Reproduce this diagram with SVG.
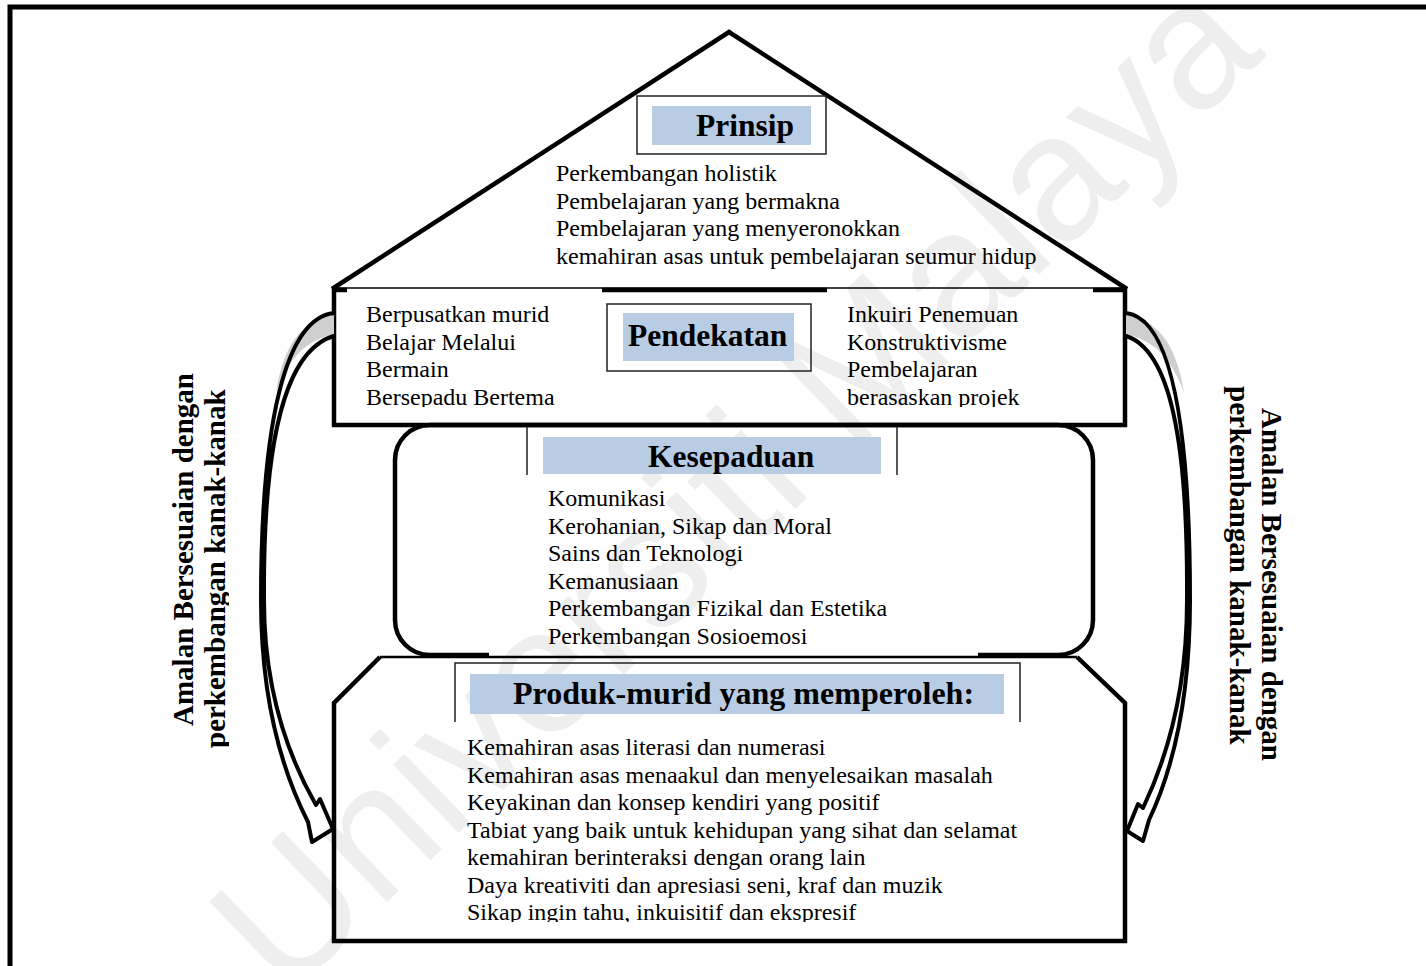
<svg xmlns="http://www.w3.org/2000/svg" width="1426" height="966" viewBox="0 0 1426 966">
  <style>
    .body { font-family: "Liberation Serif", "Times New Roman", serif; font-size: 24px; fill: #000; }
    .head { font-family: "Liberation Serif", "Times New Roman", serif; font-size: 31.5px; font-weight: bold; fill: #000; }
    .side { font-family: "Liberation Serif", "Times New Roman", serif; font-size: 29px; font-weight: bold; fill: #000; }
    .mark { font-family: "Liberation Sans", Arial, sans-serif; font-size: 179px; fill: #eeeeee; }
    .thick { fill: none; stroke: #000; stroke-width: 4.5; stroke-linejoin: miter; }
    .thin { fill: none; stroke: #222; stroke-width: 1.5; }
    .band { fill: none; stroke: #000; stroke-width: 4; stroke-linejoin: round; }
    .shade { fill: #cfcfcf; stroke: none; }
    .label { fill: #b8cce4; }
  </style>
  <defs>
    <clipPath id="clipPend"><rect x="340" y="292" width="780" height="115"/></clipPath>
    <clipPath id="clipKes"><rect x="400" y="476" width="690" height="171"/></clipPath>
    <clipPath id="clipProd"><rect x="340" y="720" width="780" height="202"/></clipPath>
    <clipPath id="clipLeftLabel"><rect x="150" y="350" width="79" height="420"/></clipPath>
  </defs>

  <!-- background watermark -->
  <text class="mark" transform="translate(285,1000) rotate(-43.9)">Universiti Malaya</text>

  <!-- page frame -->
  <path d="M10,966 L10,7 L1426,7" fill="none" stroke="#000" stroke-width="5"/>

  <!-- roof: Prinsip -->
  <g id="prinsip">
    <path class="thick" d="M332,289 L729,32 L1127,289"/>
    <line x1="332" y1="288" x2="1127" y2="288" stroke="#000" stroke-width="1.5"/>
    <rect class="thin" x="637" y="96" width="189" height="58"/>
    <rect class="label" x="652" y="106" width="159" height="39"/>
    <text class="head" x="696" y="136">Prinsip</text>
    <text class="body" x="556" y="181">Perkembangan holistik</text>
    <text class="body" x="556" y="208.5">Pembelajaran yang bermakna</text>
    <text class="body" x="556" y="236">Pembelajaran yang menyeronokkan</text>
    <text class="body" x="556" y="263.5">kemahiran asas untuk pembelajaran seumur hidup</text>
  </g>

  <!-- Pendekatan -->
  <g id="pendekatan">
    <path class="thick" d="M334,287 L334,425 L1125,425 L1125,287"/>
    <path class="thick" d="M332,290 L347,290 M602,290 L827,290 M1093,290 L1127,290"/>
    <rect class="thin" x="607" y="304" width="204" height="67"/>
    <rect class="label" x="623" y="313" width="171" height="48"/>
    <text class="head" x="628" y="346">Pendekatan</text>
    <g clip-path="url(#clipPend)">
      <text class="body" x="366" y="322">Berpusatkan murid</text>
      <text class="body" x="366" y="349.5">Belajar Melalui</text>
      <text class="body" x="366" y="377">Bermain</text>
      <text class="body" x="366" y="404.5">Bersepadu Bertema</text>
      <text class="body" x="847" y="322">Inkuiri Penemuan</text>
      <text class="body" x="847" y="349.5">Konstruktivisme</text>
      <text class="body" x="847" y="377">Pembelajaran</text>
      <text class="body" x="847" y="404.5">berasaskan projek</text>
    </g>
  </g>

  <!-- Kesepaduan -->
  <g id="kesepaduan">
    <path class="thick" d="M489,655 L430,655 A35,35 0 0 1 395,620 L395,460 A35,35 0 0 1 430,425 L1058,425 A35,35 0 0 1 1093,460 L1093,620 A35,35 0 0 1 1058,655 L978,655"/>
    <path class="thin" d="M527,427 L527,475 M897,427 L897,475"/>
    <rect class="label" x="543" y="437" width="338" height="37"/>
    <text class="head" x="648" y="467">Kesepaduan</text>
    <g clip-path="url(#clipKes)">
      <text class="body" x="548" y="506">Komunikasi</text>
      <text class="body" x="548" y="533.5">Kerohanian, Sikap dan Moral</text>
      <text class="body" x="548" y="561">Sains dan Teknologi</text>
      <text class="body" x="548" y="588.5">Kemanusiaan</text>
      <text class="body" x="548" y="616">Perkembangan Fizikal dan Estetika</text>
      <text class="body" x="548" y="643.5">Perkembangan Sosioemosi</text>
    </g>
  </g>

  <!-- Produk -->
  <g id="produk">
    <path class="thick" d="M380,657 L334,703 L334,941 L1125,941 L1125,703 L1077,657"/>
    <line x1="380" y1="657" x2="1077" y2="657" stroke="#000" stroke-width="2.5"/>
    <path class="thin" d="M455,722 L455,663 L1020,663 L1020,722"/>
    <rect class="label" x="470" y="674" width="534" height="40"/>
    <text class="head" x="513" y="704" style="font-size:32px">Produk-murid yang memperoleh:</text>
    <g clip-path="url(#clipProd)">
      <text class="body" x="467" y="755">Kemahiran asas literasi dan numerasi</text>
      <text class="body" x="467" y="782.5">Kemahiran asas menaakul dan menyelesaikan masalah</text>
      <text class="body" x="467" y="810">Keyakinan dan konsep kendiri yang positif</text>
      <text class="body" x="467" y="837.5">Tabiat yang baik untuk kehidupan yang sihat dan selamat</text>
      <text class="body" x="467" y="865">kemahiran berinteraksi dengan orang lain</text>
      <text class="body" x="467" y="892.5">Daya kreativiti dan apresiasi seni, kraf dan muzik</text>
      <text class="body" x="467" y="920">Sikap ingin tahu, inkuisitif dan ekspresif</text>
    </g>
  </g>

  <!-- curved side arrows -->
  <g id="connectors">
    <path class="shade" d="M334,315 C302,320 284,344 276,392 C290,356 306,341 334,334 Z"/>
    <path class="band" d="M334,313 C286,318 261,420 261,600 C261,690 279,765 308,822 L312,842 L333,829 L320,799 L316,805 C289,758 264,690 264,600 C263,440 285,350 334,336"/>
    <path class="shade" d="M1126,315 C1158,320 1176,344 1184,392 C1170,356 1154,341 1126,334 Z"/>
    <path class="band" d="M1126,313 C1170,318 1190,420 1190,600 C1190,690 1175,765 1149,820 L1143,841 L1127,831 L1138,804 L1143,808 C1166,760 1187,690 1187,600 C1188,440 1170,350 1126,336"/>
  </g>

  <!-- side captions -->
  <g id="label-left" clip-path="url(#clipLeftLabel)">
    <text class="side" transform="translate(193,726) rotate(-90)">Amalan Bersesuaian dengan</text>
    <text class="side" transform="translate(225,748) rotate(-90)">perkembangan kanak-kanak</text>
  </g>
  <g id="label-right">
    <text class="side" transform="translate(1262,408) rotate(90)">Amalan Bersesuaian dengan</text>
    <text class="side" transform="translate(1230,386) rotate(90)">perkembangan kanak-kanak</text>
  </g>
</svg>
